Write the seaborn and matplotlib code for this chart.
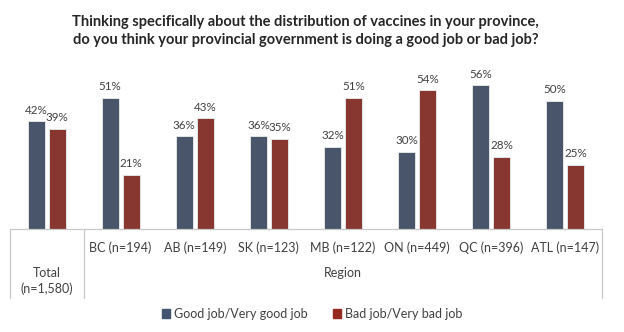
import matplotlib
matplotlib.use("Agg")
import matplotlib.pyplot as plt
import seaborn as sns
import pandas as pd

categories = ["Total", "BC", "AB", "SK", "MB", "ON", "QC", "ATL"]
sample_sizes = ["1,580", "194", "149", "123", "122", "449", "396", "147"]
good_job = [42, 51, 36, 36, 32, 30, 56, 50]
bad_job = [39, 21, 43, 35, 51, 54, 28, 25]
series_names = ["Good job/Very good job", "Bad job/Very bad job"]
colors = ["#435470", "#962A21"]

title = ("Thinking specifically about the distribution of vaccines in your province,\n"
         "do you think your provincial government is doing a good job or bad job?")

df = pd.DataFrame({
    "category": categories * 2,
    "value": good_job + bad_job,
    "series": [series_names[0]] * len(categories) + [series_names[1]] * len(categories),
})

sns.set_theme(style="white")
plt.rcParams["font.family"] = ["Lato", "DejaVu Sans"]

W, H = 624, 332
fig = plt.figure(figsize=(W / 100, H / 100), dpi=100)
ax_left, ax_right, ax_bottom, ax_top = 9.5, 602.5, 229, 55
ax = fig.add_axes([ax_left / W, 1 - ax_bottom / H,
                   (ax_right - ax_left) / W, (ax_bottom - ax_top) / H])

sns.barplot(data=df, x="category", y="value", hue="series", order=categories,
            hue_order=series_names, palette=colors, width=0.568, gap=0.19,
            edgecolor="#E4E4E4", linewidth=0.7, legend=False, ax=ax)

for cont in ax.containers:
    ax.bar_label(cont, fmt="%d%%", padding=4, fontsize=8.4, color="#404040")

px_per_pct = 2.57
ax.set_xlim(-0.5, len(categories) - 0.5)
ax.set_ylim(0, (ax_bottom - ax_top) / px_per_pct)
ax.set_xlabel("")
ax.set_ylabel("")
ax.set_xticks([])
ax.set_yticks([])
for s in ax.spines.values():
    s.set_visible(False)

# category table beneath the bars
axes_h = ax_bottom - ax_top
def ay(y_px):
    return (ax_bottom - y_px) / axes_h

trans = ax.get_xaxis_transform()
line_kw = dict(color="#C8C8C8", linewidth=0.9, clip_on=False, transform=trans)
ax.plot([-0.5, len(categories) - 0.5], [0, 0], **line_kw)
for xv in [-0.5, 0.5, len(categories) - 0.5]:
    ax.plot([xv, xv], [0, ay(298)], **line_kw)

for i, (cat, n) in enumerate(zip(categories, sample_sizes)):
    if i == 0:
        ax.text(i, ay(281), f"{cat}\n(n={n})", transform=trans, ha="center",
                va="center", fontsize=9, color="#404040", linespacing=1.3)
    else:
        ax.text(i, ay(248), f"{cat} (n={n})", transform=trans, ha="center",
                va="center", fontsize=9, color="#404040")
ax.text((0.5 + len(categories) - 0.5) / 2, ay(273), "Region", transform=trans,
        ha="center", va="center", fontsize=9, color="#404040")

fig.text(0.49, 1 - 31 / H, title, ha="center", va="center", fontsize=10.5,
         fontweight="bold", color="#262626", linespacing=1.35)

handles = [plt.Rectangle((0, 0), 1, 1, color=c) for c in colors]
fig.legend(handles, series_names, loc="center", bbox_to_anchor=(0.5, 1 - 314 / H),
           ncol=2, frameon=False, fontsize=9, handlelength=0.7, handleheight=0.7,
           handletextpad=0.3, columnspacing=2.0, labelcolor="#404040")

fig.savefig("out.png", dpi=100, facecolor="white")
